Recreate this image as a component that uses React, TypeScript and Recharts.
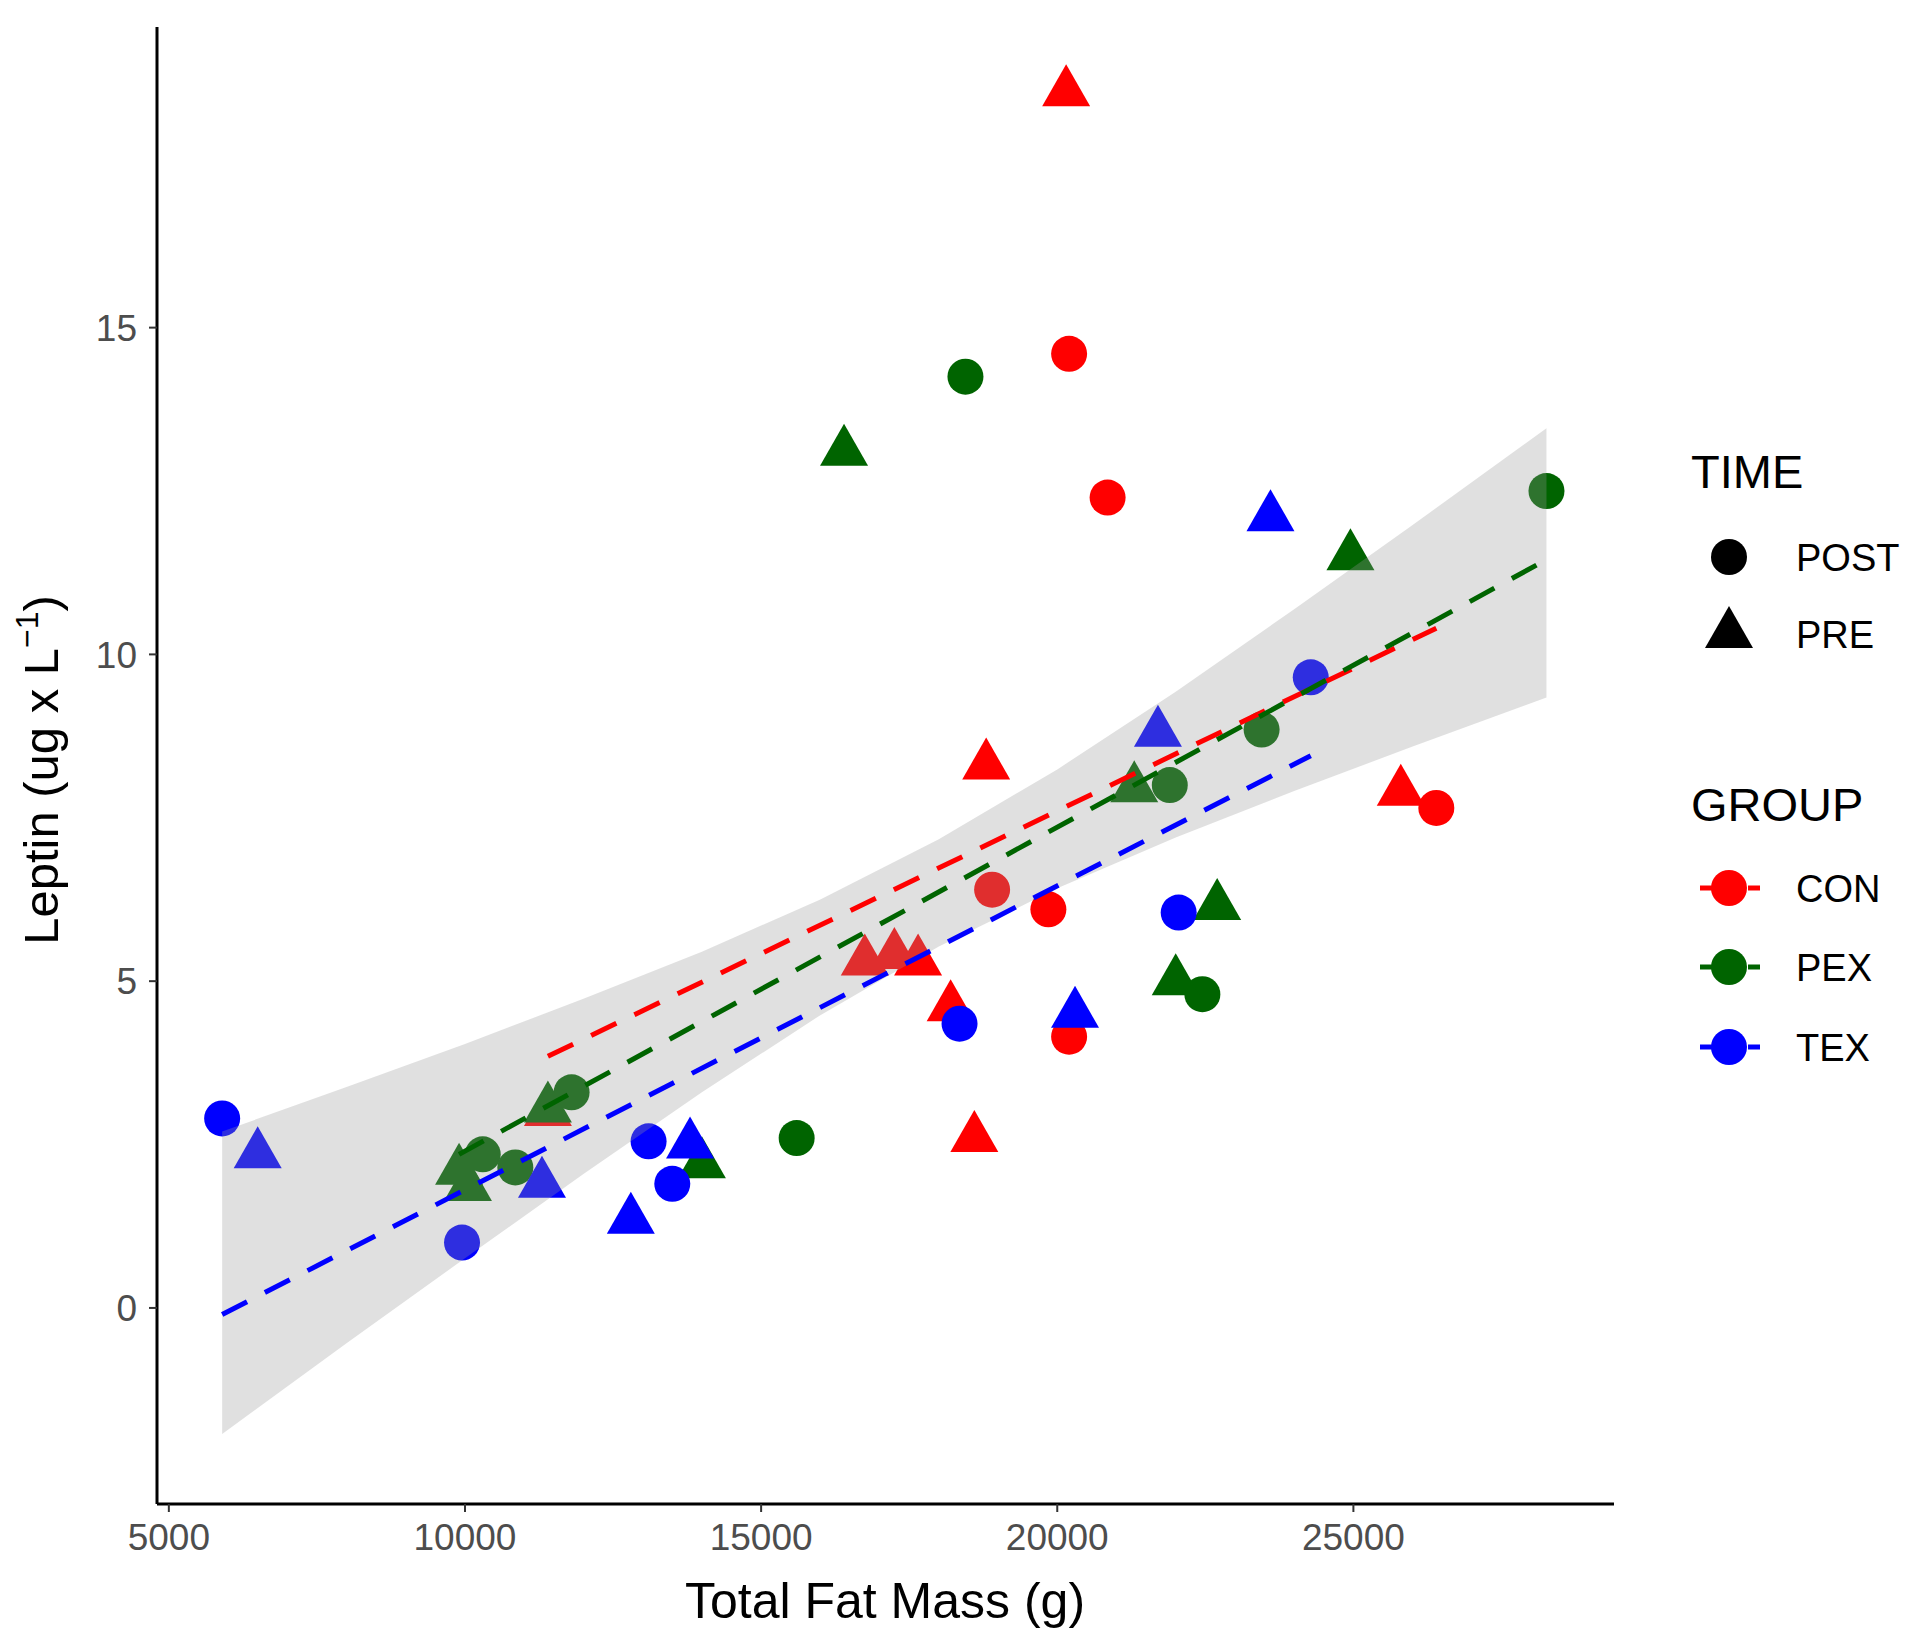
import { ComposedChart, XAxis, YAxis, Scatter, Area, Label } from 'recharts';

// points: [fat mass (g), leptin]
const conPost = [[20200, 14.6], [20850, 12.4], [26400, 7.65], [18900, 6.4], [19850, 6.1], [20200, 4.15]];
const conPre = [[20150, 18.6], [18800, 8.3], [25800, 7.9], [16750, 5.3], [17250, 5.4], [17650, 5.3], [18200, 4.6], [18600, 2.6], [11400, 3.0]];
const pexPost = [[18450, 14.25], [28260, 12.5], [23450, 8.85], [21900, 8.0], [22450, 4.8], [15600, 2.6], [11800, 3.3], [10850, 2.15], [10300, 2.35]];
const pexPre = [[16400, 13.1], [24950, 11.5], [21300, 7.95], [22700, 6.15], [22000, 5.0], [14000, 2.2], [11400, 3.05], [9900, 2.1], [10050, 1.85]];
const texPost = [[5900, 2.9], [9950, 1.0], [13100, 2.55], [13500, 1.9], [18350, 4.35], [22050, 6.05], [24280, 9.65]];
const texPre = [[6500, 2.35], [11300, 1.9], [12800, 1.35], [13800, 2.5], [20300, 4.5], [21700, 8.8], [23600, 12.1]];

// group regression lines (end points)
const conFit = [[11400, 3.85], [26400, 10.4]];
const pexFit = [[9900, 2.35], [28260, 11.45]];
const texFit = [[5900, -0.1], [24280, 8.45]];

// grey confidence band
const ribbonX = [5900, 8000, 10000, 12000, 14000, 16000, 18000, 20000, 22000, 24000, 26000, 28260];
const ribbonLow = [-1.93, -0.54, 0.76, 2.05, 3.3, 4.48, 5.53, 6.42, 7.2, 7.91, 8.59, 9.34];
const ribbonHigh = [2.7, 3.38, 4.04, 4.73, 5.45, 6.25, 7.17, 8.24, 9.43, 10.69, 11.98, 13.46];

const xTicks = [5000, 10000, 15000, 20000, 25000];
const yTicks = [0, 5, 10, 15];

const FONT = '"Liberation Sans", Arial, Helvetica, sans-serif';
const RED = '#ff0000';
const GREEN = '#006400';
const BLUE = '#0000ff';
const DASH = '28 20';

const toPts = (arr: number[][]) => arr.map(([x, y]) => ({ x, y }));
const bandData = ribbonX.map((x, i) => ({ x, band: [ribbonLow[i], ribbonHigh[i]] }));

const Dot = (props: any) => <circle cx={props.cx} cy={props.cy} r={18} fill={props.fill} />;
const Tri = (props: any) => {
  const { cx, cy, fill } = props;
  const p = `${cx},${cy - 28} ${cx + 24},${cy + 14} ${cx - 24},${cy + 14}`;
  return <polygon points={p} fill={fill} />;
};
const Nothing = () => <g />;

const tickStyle = { fontSize: 37, fill: '#4d4d4d', fontFamily: FONT };

function LegendBox() {
  const key = (y: number, color: string, label: string) => (
    <g key={label}>
      <line x1={1700} y1={y} x2={1760} y2={y} stroke={color} strokeWidth={5} strokeDasharray={DASH} />
      <circle cx={1729} cy={y} r={18} fill={color} />
      <text x={1796} y={y + 14} fontSize={38} fill="#000">{label}</text>
    </g>
  );
  return (
    <svg width={1920} height={1639} style={{ position: 'absolute', left: 0, top: 0, pointerEvents: 'none' }} fontFamily={FONT}>
      <text x={1691} y={488} fontSize={47}>TIME</text>
      <circle cx={1729} cy={557} r={18} fill="#000" />
      <text x={1796} y={571} fontSize={38}>POST</text>
      <polygon points="1729,606 1753,648 1705,648" fill="#000" />
      <text x={1796} y={648} fontSize={38}>PRE</text>
      <text x={1691} y={821} fontSize={47}>GROUP</text>
      {key(888, RED, 'CON')}
      {key(967, GREEN, 'PEX')}
      {key(1047, BLUE, 'TEX')}
    </svg>
  );
}

export default function App() {
  return (
    <div style={{ position: 'absolute', left: 0, top: 0, width: 1920, height: 1639, background: '#fff', fontFamily: FONT }}>
      <ComposedChart width={1920} height={1639} data={bandData} margin={{ top: 27, right: 306, bottom: 0, left: 0 }}>
        <XAxis
          type="number"
          dataKey="x"
          domain={[4800, 29400]}
          ticks={xTicks}
          allowDataOverflow
          height={135}
          tick={tickStyle}
          tickSize={8}
          tickMargin={12}
          axisLine={{ stroke: '#000', strokeWidth: 3 }}
          tickLine={{ stroke: '#333', strokeWidth: 2 }}
        >
          <Label
            content={() => (
              <text x={885} y={1618} textAnchor="middle" fontSize={50} fontFamily={FONT} fill="#000">
                Total Fat Mass (g)
              </text>
            )}
          />
        </XAxis>
        <YAxis
          type="number"
          dataKey="y"
          domain={[-3, 19.6]}
          ticks={yTicks}
          allowDataOverflow
          width={157}
          tick={tickStyle}
          tickSize={8}
          tickMargin={12}
          axisLine={{ stroke: '#000', strokeWidth: 3 }}
          tickLine={{ stroke: '#333', strokeWidth: 2 }}
        >
          <Label
            content={() => (
              <text transform="translate(58, 770) rotate(-90)" textAnchor="middle" fontSize={49} fontFamily={FONT} fill="#000">
                <tspan>Leptin (ug x L</tspan>
                <tspan dy={-20} fontSize={32}>−1</tspan>
                <tspan dy={20}>)</tspan>
              </text>
            )}
          />
        </YAxis>

        <Scatter data={toPts(conPost)} dataKey="y" fill={RED} shape={Dot} isAnimationActive={false} zIndex={300} />
        <Scatter data={toPts(conPre)} dataKey="y" fill={RED} shape={Tri} isAnimationActive={false} zIndex={300} />
        <Scatter data={toPts(pexPost)} dataKey="y" fill={GREEN} shape={Dot} isAnimationActive={false} zIndex={300} />
        <Scatter data={toPts(pexPre)} dataKey="y" fill={GREEN} shape={Tri} isAnimationActive={false} zIndex={300} />
        <Scatter data={toPts(texPost)} dataKey="y" fill={BLUE} shape={Dot} isAnimationActive={false} zIndex={300} />
        <Scatter data={toPts(texPre)} dataKey="y" fill={BLUE} shape={Tri} isAnimationActive={false} zIndex={300} />

        <Area
          dataKey="band"
          type="linear"
          stroke="none"
          fill="#999999"
          fillOpacity={0.3}
          isAnimationActive={false}
          zIndex={400}
        />

        <Scatter data={toPts(conFit)} dataKey="y" fill={RED} shape={Nothing} line={{ stroke: RED, strokeWidth: 5, strokeDasharray: DASH }} isAnimationActive={false} zIndex={700} />
        <Scatter data={toPts(pexFit)} dataKey="y" fill={GREEN} shape={Nothing} line={{ stroke: GREEN, strokeWidth: 5, strokeDasharray: DASH }} isAnimationActive={false} zIndex={700} />
        <Scatter data={toPts(texFit)} dataKey="y" fill={BLUE} shape={Nothing} line={{ stroke: BLUE, strokeWidth: 5, strokeDasharray: DASH }} isAnimationActive={false} zIndex={700} />
      </ComposedChart>
      <LegendBox />
    </div>
  );
}
